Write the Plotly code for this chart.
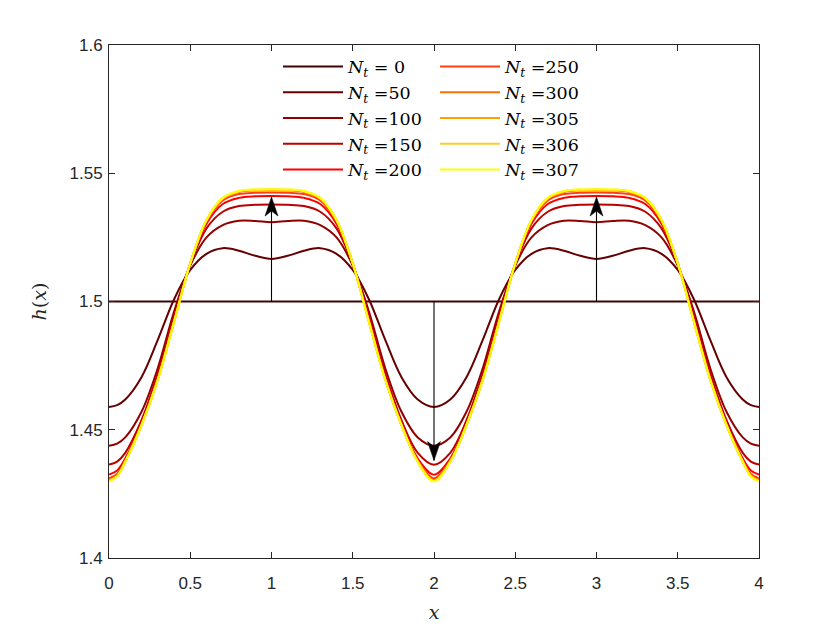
import plotly.graph_objects as go

# ---------------- data ----------------
x = [0.0, 0.05, 0.1, 0.2, 0.3, 0.4, 0.5, 0.6, 0.7, 0.8, 0.9, 1.0,
     1.1, 1.2, 1.3, 1.4, 1.5, 1.6, 1.7, 1.8, 1.9, 2.0,
     2.1, 2.2, 2.3, 2.4, 2.5, 2.6, 2.7, 2.8, 2.9, 3.0,
     3.1, 3.2, 3.3, 3.4, 3.5, 3.6, 3.7, 3.8, 3.9, 3.95, 4.0]

h_0 = [1.5] * 43

h_50 = [1.4589, 1.4596, 1.4618, 1.4705, 1.4850, 1.5008, 1.5123, 1.5186, 1.5208, 1.5198, 1.5178, 1.5166,
        1.5178, 1.5198, 1.5208, 1.5186, 1.5123, 1.5008, 1.4850, 1.4705, 1.4618, 1.4589,
        1.4618, 1.4705, 1.4850, 1.5008, 1.5123, 1.5186, 1.5208, 1.5198, 1.5178, 1.5166,
        1.5178, 1.5198, 1.5208, 1.5186, 1.5123, 1.5008, 1.4850, 1.4705, 1.4618, 1.4596, 1.4589]

h_100 = [1.4438, 1.4446, 1.4470, 1.4570, 1.4740, 1.4960, 1.5140, 1.5250, 1.5298, 1.5315, 1.5314, 1.5309,
         1.5314, 1.5315, 1.5298, 1.5250, 1.5140, 1.4960, 1.4740, 1.4570, 1.4470, 1.4438,
         1.4470, 1.4570, 1.4740, 1.4960, 1.5140, 1.5250, 1.5298, 1.5315, 1.5314, 1.5309,
         1.5314, 1.5315, 1.5298, 1.5250, 1.5140, 1.4960, 1.4740, 1.4570, 1.4470, 1.4446, 1.4438]

h_150 = [1.4364, 1.4376, 1.4410, 1.4537, 1.4720, 1.4945, 1.5145, 1.5285, 1.5350, 1.5372, 1.5377, 1.5378,
         1.5377, 1.5372, 1.5350, 1.5285, 1.5145, 1.4945, 1.4720, 1.4537, 1.4410, 1.4364,
         1.4410, 1.4537, 1.4720, 1.4945, 1.5145, 1.5285, 1.5350, 1.5372, 1.5377, 1.5378,
         1.5377, 1.5372, 1.5350, 1.5285, 1.5145, 1.4945, 1.4720, 1.4537, 1.4410, 1.4376, 1.4364]

h_200 = [1.4325, 1.4341, 1.4388, 1.4525, 1.4705, 1.4930, 1.5147, 1.5303, 1.5380, 1.5404, 1.5410, 1.5411,
         1.5410, 1.5404, 1.5380, 1.5303, 1.5147, 1.4930, 1.4705, 1.4525, 1.4388, 1.4325,
         1.4388, 1.4525, 1.4705, 1.4930, 1.5147, 1.5303, 1.5380, 1.5404, 1.5410, 1.5411,
         1.5410, 1.5404, 1.5380, 1.5303, 1.5147, 1.4930, 1.4705, 1.4525, 1.4388, 1.4341, 1.4325]

h_250 = [1.4311, 1.4328, 1.4380, 1.4521, 1.4699, 1.4924, 1.5148, 1.5312, 1.5394, 1.5419, 1.5424, 1.5425,
         1.5424, 1.5419, 1.5394, 1.5312, 1.5148, 1.4924, 1.4699, 1.4521, 1.4380, 1.4311,
         1.4380, 1.4521, 1.4699, 1.4924, 1.5148, 1.5312, 1.5394, 1.5419, 1.5424, 1.5425,
         1.5424, 1.5419, 1.5394, 1.5312, 1.5148, 1.4924, 1.4699, 1.4521, 1.4380, 1.4328, 1.4311]

h_300 = [1.4304, 1.4322, 1.4377, 1.4519, 1.4696, 1.4921, 1.5148, 1.5316, 1.5400, 1.5427, 1.5433, 1.5434,
         1.5433, 1.5427, 1.5400, 1.5316, 1.5148, 1.4921, 1.4696, 1.4519, 1.4377, 1.4304,
         1.4377, 1.4519, 1.4696, 1.4921, 1.5148, 1.5316, 1.5400, 1.5427, 1.5433, 1.5434,
         1.5433, 1.5427, 1.5400, 1.5316, 1.5148, 1.4921, 1.4696, 1.4519, 1.4377, 1.4322, 1.4304]

h_305 = [1.4301, 1.4320, 1.4376, 1.4518, 1.4695, 1.4920, 1.5148, 1.5317, 1.5402, 1.5429, 1.5435, 1.5436,
         1.5435, 1.5429, 1.5402, 1.5317, 1.5148, 1.4920, 1.4695, 1.4518, 1.4376, 1.4301,
         1.4376, 1.4518, 1.4695, 1.4920, 1.5148, 1.5317, 1.5402, 1.5429, 1.5435, 1.5436,
         1.5435, 1.5429, 1.5402, 1.5317, 1.5148, 1.4920, 1.4695, 1.4518, 1.4376, 1.4320, 1.4301]

h_306 = [1.4300, 1.4319, 1.4375, 1.4518, 1.4695, 1.4920, 1.5148, 1.5318, 1.5403, 1.5430, 1.5436, 1.5437,
         1.5436, 1.5430, 1.5403, 1.5318, 1.5148, 1.4920, 1.4695, 1.4518, 1.4375, 1.4300,
         1.4375, 1.4518, 1.4695, 1.4920, 1.5148, 1.5318, 1.5403, 1.5430, 1.5436, 1.5437,
         1.5436, 1.5430, 1.5403, 1.5318, 1.5148, 1.4920, 1.4695, 1.4518, 1.4375, 1.4319, 1.4300]

h_307 = [1.4299, 1.4318, 1.4375, 1.4518, 1.4695, 1.4920, 1.5148, 1.5318, 1.5404, 1.5431, 1.5437, 1.5438,
         1.5437, 1.5431, 1.5404, 1.5318, 1.5148, 1.4920, 1.4695, 1.4518, 1.4375, 1.4299,
         1.4375, 1.4518, 1.4695, 1.4920, 1.5148, 1.5318, 1.5404, 1.5431, 1.5437, 1.5438,
         1.5437, 1.5431, 1.5404, 1.5318, 1.5148, 1.4920, 1.4695, 1.4518, 1.4375, 1.4318, 1.4299]

nt_labels = ["= 0", "=50", "=100", "=150", "=200", "=250", "=300", "=305", "=306", "=307"]
series = [h_0, h_50, h_100, h_150, h_200, h_250, h_300, h_305, h_306, h_307]
colors = ["#3d0505", "#660000", "#910000", "#bb0000", "#ff0000",
          "#ff4010", "#ff7000", "#ffa000", "#ffcc30", "#ffff00"]

# arrows: x position, start value, end value
arrow_x = [1.0, 2.0, 3.0]
arrow_start = [1.5, 1.5, 1.5]
arrow_end = [1.5407, 1.4380, 1.5407]

x_ticks = [0, 0.5, 1, 1.5, 2, 2.5, 3, 3.5, 4]
x_ticklabels = ["0", "0.5", "1", "1.5", "2", "2.5", "3", "3.5", "4"]
y_ticks = [1.4, 1.45, 1.5, 1.55, 1.6]
y_ticklabels = ["1.4", "1.45", "1.5", "1.55", "1.6"]

# ---------------- figure ----------------
SERIF = "DejaVu Serif"
SANS = "Liberation Sans"
AXC = "#262626"

fig = go.Figure()
for i, (lab, ys, col) in enumerate(zip(nt_labels, series, colors)):
    fig.add_trace(go.Scatter(
        x=x, y=ys, mode="lines",
        line=dict(color=col, width=2, shape="spline", smoothing=1.0),
        name="<i>N</i><sub><i>t</i></sub> " + lab,
        legend="legend" if i < 5 else "legend2",
        hoverinfo="skip",
    ))

# quiver-style arrows: a thin shaft in data coordinates plus a filled,
# notched head drawn in pixels around the tip
HEAD_W, HEAD_L, NOTCH = 6.5, 19, 14
shapes = []
for ax_, a0, a1 in zip(arrow_x, arrow_start, arrow_end):
    shapes.append(dict(type="line", xref="x", yref="y",
                       x0=ax_, x1=ax_, y0=a0, y1=a1,
                       line=dict(color="black", width=1.1), layer="above"))
    s = 1 if a1 > a0 else -1   # +1: pointing up, -1: pointing down
    path = (f"M0,0 L{-HEAD_W},{-s * HEAD_L} L0,{-s * NOTCH} "
            f"L{HEAD_W},{-s * HEAD_L} Z")
    shapes.append(dict(type="path", xref="x", yref="y",
                       xsizemode="pixel", ysizemode="pixel",
                       xanchor=ax_, yanchor=a1, path=path,
                       fillcolor="black", line=dict(color="black", width=0.5),
                       layer="above"))

legend_common = dict(
    xanchor="left", yanchor="top",
    bgcolor="rgba(0,0,0,0)", borderwidth=0,
    font=dict(family=SERIF, size=17.5, color="black"),
    tracegroupgap=0, itemwidth=60,
)

# page body has an 8px offset; margins chosen so the plot box spans
# x 109..759 px and y 45..558 px of the window
fig.update_layout(
    width=840, height=630,
    margin=dict(l=101, r=89, t=37, b=80),
    paper_bgcolor="white", plot_bgcolor="white",
    showlegend=True,
    legend=dict(x=(278 - 109) / 650, y=0.993, **legend_common),
    legend2=dict(x=(435 - 109) / 650, y=0.993, **legend_common),
    shapes=shapes,
)

fig.update_xaxes(
    range=[0, 4], tickmode="array", tickvals=x_ticks, ticktext=x_ticklabels,
    ticks="inside", ticklen=6, tickwidth=1, tickcolor=AXC,
    showline=True, linecolor=AXC, linewidth=1, mirror="allticks",
    showgrid=False, zeroline=False, ticklabelstandoff=10,
    tickfont=dict(family=SANS, size=17, color=AXC),
    title=dict(text="<i>x</i>", font=dict(family=SERIF, size=19, color=AXC), standoff=13),
)
fig.update_yaxes(
    range=[1.4, 1.6], tickmode="array", tickvals=y_ticks, ticktext=y_ticklabels,
    ticks="inside", ticklen=6, tickwidth=1, tickcolor=AXC,
    showline=True, linecolor=AXC, linewidth=1, mirror="allticks",
    showgrid=False, zeroline=False, ticklabelstandoff=2,
    tickfont=dict(family=SANS, size=17, color=AXC),
    title=dict(text="<i>h</i>(<i>x</i>)", font=dict(family=SERIF, size=19, color=AXC), standoff=17),
)

fig.write_html("out.html")
